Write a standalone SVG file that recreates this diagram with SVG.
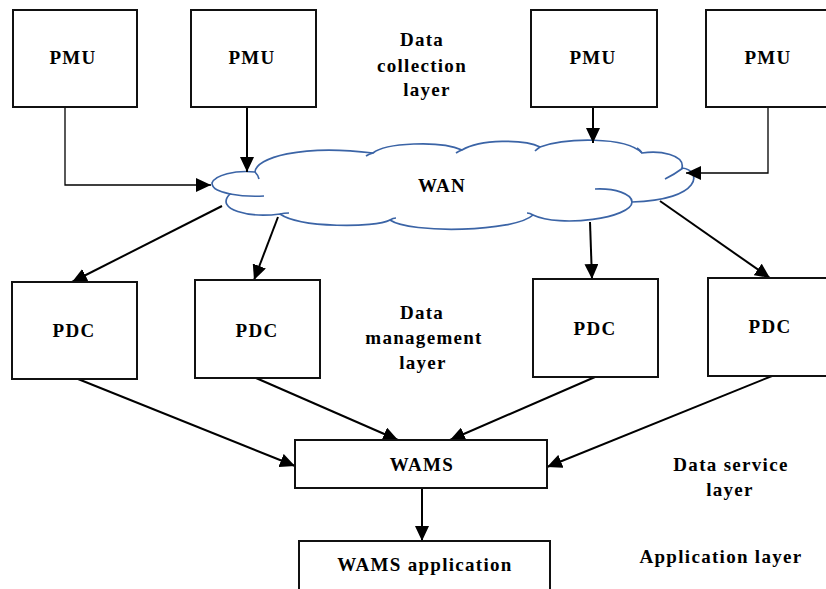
<svg xmlns="http://www.w3.org/2000/svg" width="826" height="589" viewBox="0 0 826 589">
<style>
.box{fill:#fff;stroke:#111;stroke-width:2}
.t{font-family:"Liberation Serif","Times New Roman",serif;font-weight:bold;font-size:19px;letter-spacing:1.3px;fill:#000;text-anchor:middle}
.c{fill:none;stroke:#000;stroke-width:2}
.thin{fill:none;stroke:#000;stroke-width:1.3}
.cloud{fill:#fff;stroke:#3b64a6;stroke-width:1.7}
.hook{fill:none;stroke:#3b64a6;stroke-width:1.7}
</style>
<defs>
<marker id="ah" viewBox="0 0 15 14" refX="15" refY="7" markerWidth="15" markerHeight="14" orient="auto" markerUnits="userSpaceOnUse">
<path d="M0,0 L15,7 L0,14 z" fill="#000"/>
</marker>
</defs>
<rect width="826" height="589" fill="#fff"/>

<g id="wan">
<path class="cloud" d="M 212,183 C 215,175 235,170 255,172 C 256,158 300,144 373,153 C 385,143 440,140 462,150 C 480,139 525,139 540,147 C 565,138 625,136 642,153 C 660,150 685,155 682,168 C 702,170 703,200 632,202 C 632,218 560,228 533,215 C 515,232 410,234 390,220 C 375,228 300,228 280,214 C 250,218 214,210 230,194 C 222,192 212,190 212,183 Z"/>
<path class="hook" d="M 230,194 Q 246,197 264,196"/>
<path class="hook" d="M 595,189 C 615,188 632,194 632,202"/>
<path class="hook" d="M 665,179 Q 675,174 683,168"/>
<path class="hook" d="M 255,172 Q 258,175 259,179"/>
<path class="hook" d="M 373,153 Q 369,154 366,156"/>
<path class="hook" d="M 462,150 Q 459,151 456,153"/>
<path class="hook" d="M 540,147 Q 537,149 535,151"/>
<path class="hook" d="M 642,153 Q 640,150 637,148"/>
<path class="hook" d="M 533,215 Q 530,213 527,213"/>
<path class="hook" d="M 390,220 Q 393,218 396,218"/>
<path class="hook" d="M 280,214 Q 284,213 289,213"/>
<text class="t" x="442" y="192">WAN</text>
</g>

<g id="connectors">
<path class="thin" d="M 65,107 L 65,185 L 211,185" marker-end="url(#ah)"/>
<path class="c" d="M 247,107 L 247,172" marker-end="url(#ah)"/>
<path class="c" d="M 593,107 L 593,143" marker-end="url(#ah)"/>
<path class="thin" d="M 768,107 L 768,173 L 686,173" marker-end="url(#ah)"/>
<path class="c" d="M 222,206 L 72,282" marker-end="url(#ah)"/>
<path class="c" d="M 278,217 L 254,280" marker-end="url(#ah)"/>
<path class="c" d="M 590,222 L 592,279" marker-end="url(#ah)"/>
<path class="c" d="M 660,201 L 770,278" marker-end="url(#ah)"/>
<path class="c" d="M 78,379 L 295,466" marker-end="url(#ah)"/>
<path class="c" d="M 256,378 L 398,440" marker-end="url(#ah)"/>
<path class="c" d="M 595,377 L 450,440" marker-end="url(#ah)"/>
<path class="c" d="M 772,376 L 547,467" marker-end="url(#ah)"/>
<path class="c" d="M 422,488 L 422,541" marker-end="url(#ah)"/>
</g>

<g id="pmu1"><rect class="box" x="13" y="10" width="124" height="97"/><text class="t" x="73" y="64">PMU</text></g>
<g id="pmu2"><rect class="box" x="191" y="10" width="125" height="97"/><text class="t" x="252" y="64">PMU</text></g>
<g id="pmu3"><rect class="box" x="531" y="10" width="126" height="97"/><text class="t" x="593" y="64">PMU</text></g>
<g id="pmu4"><rect class="box" x="706" y="10" width="130" height="97"/><text class="t" x="768" y="64">PMU</text></g>

<g id="pdc1"><rect class="box" x="12" y="282" width="125" height="97"/><text class="t" x="74" y="337">PDC</text></g>
<g id="pdc2"><rect class="box" x="195" y="280" width="125" height="98"/><text class="t" x="257" y="337">PDC</text></g>
<g id="pdc3"><rect class="box" x="533" y="279" width="125" height="98"/><text class="t" x="595" y="335">PDC</text></g>
<g id="pdc4"><rect class="box" x="708" y="278" width="130" height="98"/><text class="t" x="770" y="333">PDC</text></g>

<g id="wams"><rect class="box" x="295" y="440" width="252" height="48"/><text class="t" x="422" y="471">WAMS</text></g>
<g id="wams-app"><rect class="box" x="299" y="541" width="251" height="52"/><text class="t" x="425" y="571">WAMS application</text></g>

<g id="labels">
<text class="t" x="422" y="46">Data</text>
<text class="t" x="422" y="72">collection</text>
<text class="t" x="427" y="96">layer</text>
<text class="t" x="422" y="319">Data</text>
<text class="t" x="424" y="344">management</text>
<text class="t" x="423" y="369">layer</text>
<text class="t" x="731" y="471">Data service</text>
<text class="t" x="730" y="496">layer</text>
<text class="t" x="721" y="563">Application layer</text>
</g>
</svg>
